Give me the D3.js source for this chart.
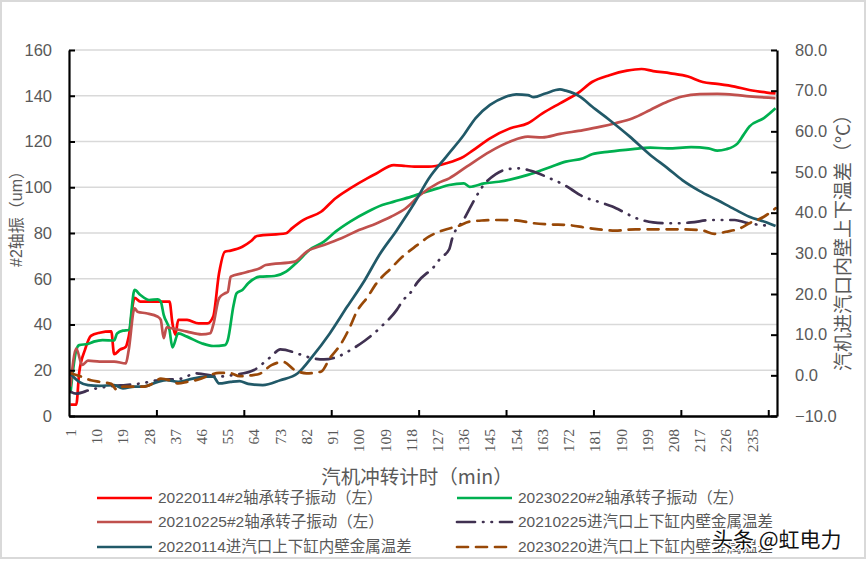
<!DOCTYPE html>
<html><head><meta charset="utf-8">
<script src="https://cdn.jsdelivr.net/npm/d3@7"></script>
<style>body{margin:0;background:#fff}svg{display:block}</style>
</head><body>
<svg id="c" width="867" height="561"></svg>
<script>
// ---------- data ----------
const leftTicks = [0,20,40,60,80,100,120,140,160];
const rightTicks = [-10,0,10,20,30,40,50,60,70,80];
const xLabels = [1,10,19,28,37,46,55,64,73,82,91,100,109,118,127,136,145,154,163,172,181,190,199,208,217,226,235];
const xTickBounds = [30,60,90,120,150,180,210,240];
const nCategories = 243;

// 20220114 #2 bearing rotor vibration (left axis)
const redMin = [1,3,4,6,8,11,15,16,18,20,21,23,25,32,35,36,37,38,41,45,48,50,52,54,56,60,63,65,75,77,81,87,92,97,103,106,112,116,119,124,130,136,139,145,152,158,163,169,175,180,186,192,197,201,207,213,218,223,229,234,240,243];
const redVal = [5,5,19,29,35,36.4,37,27,29,30.3,34.7,51.6,50,50,50,40.5,35.5,42,42,40.5,40.5,43.5,62.4,71.8,72.3,74,76.5,78.7,79.9,82,85.7,89.3,95.2,99.5,104,106,109.7,109.3,109,109,110.5,113.4,116,121.4,125.8,128,132.3,136.7,141,146,149,151,151.7,150.8,149.8,148.4,146,145.2,144,142.5,141.4,141];

// 20230220 #2 bearing rotor vibration (left axis)
const greenMin = [1,3,4,7,9,12,16,17,19,21,23,25,28,31,32,33,35,36,38,41,46,50,54,55,57,58,60,62,66,71,75,79,83,88,92,97,103,108,112,118,122,127,131,136,138,143,148,158,166,171,177,180,186,194,200,206,214,220,223,226,230,232,234,239,243];
const greenVal = [9.9,28.9,31,31.5,32.5,33.2,33,36.1,37.3,37.6,55.1,52.9,50.7,51,50,44.2,37.6,30,36.1,34.7,31.8,30.6,31,33.2,48.5,53.6,55.1,58,60.9,61.2,63.1,67.5,72.6,76.2,80.6,85,89.3,92.2,93.7,95.9,97.6,99.5,101,101.7,100.2,101.7,102.4,105.4,109,111.2,112.7,114.4,115.6,116.7,117.3,117,117.5,117,116,116.6,119.2,122.9,126.5,130.2,134.5];

// 20210225 #2 bearing rotor vibration (left axis)
const brownMin = [1,3,5,7,11,16,20,21,23,24,27,31,32,33,34,36,41,46,49,50,52,54,55,56,60,62,66,68,78,82,88,94,100,106,111,116,121,127,131,137,145,152,158,163,169,177,183,188,194,200,206,211,217,223,229,234,243];
const brownVal = [12.8,29.5,22.3,24.2,23.8,23.8,23,28.9,47.1,45.6,44.9,43.4,42,34,38.8,38.3,36.9,35.7,36.2,39.8,51.5,53.6,54.3,60.9,62.4,63.1,64.6,66,67.5,71.8,74.8,77.7,81.3,84.2,87.1,90.7,96.6,101.7,103.9,109,115.6,120,122.1,121.8,123.3,125,126.5,128,130.2,133.8,137.5,139.7,140.7,140.8,140.4,139.7,139];

// 20210225 inlet upper/lower cylinder wall temperature difference (right axis)
const purpleMin = [1,3,8,16,20,25,31,39,44,52,57,64,67,70,73,80,84,88,92,98,102,105,108,113,115,118,120,126,128,131,132,136,138,140,142,147,151,155,159,166,170,173,176,183,187,191,194,201,205,210,214,221,225,229,233,240];
const purpleVal = [-4,-4.5,-3.5,-2.6,-2.4,-2,-1.2,-0.8,0.5,-0.3,0.1,1.3,2.9,4.7,6.4,5.1,4.2,3.9,4.4,6.6,8.5,10.2,12.2,16.1,18.3,20.6,22.8,26.9,28.8,31,33.6,38.3,41,43.6,46,49.5,50.7,50.9,50.3,48.3,47,45.7,44.3,42.5,41.5,40.1,39,37.6,37.4,37.4,37.6,38.2,38.2,38.2,37.5,36.8];

// 20220114 inlet upper/lower cylinder wall temperature difference (right axis)
const tealMin = [1,4,7,11,16,19,23,26,31,34,38,43,48,50,52,56,59,62,67,73,79,84,90,96,102,107,113,119,124,130,136,140,145,150,154,158,160,164,169,171,176,180,186,193,200,206,211,217,223,229,234,240,243];
const tealVal = [0.4,-1.6,-2.4,-2.6,-2.4,-3.2,-2.8,-2.8,-1.6,-1.2,-1.6,-0.8,-0.3,-0.3,-2,-1.6,-1.4,-2.1,-2.4,-1.2,0.5,4.6,10.3,16.9,23.4,29.6,35.7,42.3,48.4,53.8,59.1,63.2,66.5,68.4,69.1,68.9,68.4,69.3,70.3,70,68.5,66.1,62.8,58.7,54.2,50.9,48,45.3,43.1,40.8,39,37.6,36.7];

// 20230220 inlet upper/lower cylinder wall temperature difference (right axis)
const orangeMin = [1,3,8,11,15,17,19,23,26,29,32,35,38,41,46,49,52,56,59,63,66,70,74,78,82,87,90,94,97,99,103,106,111,115,120,124,129,134,138,143,148,154,160,166,171,179,188,195,202,211,218,222,226,231,234,239,243];
const orangeVal = [0.5,0.1,-1.2,-1.6,-2.1,-3.6,-2.8,-2.8,-2.8,-2.1,-0.8,-1.2,-2,-1.6,-0.8,0.1,0.6,0.5,-0.2,0,0.4,2.5,3.3,1.3,0.5,0.9,4.2,7.9,12,15.3,19.3,22.6,26.3,29.2,32,34.1,35.7,36.7,37.8,38.1,38.2,38.1,37.4,37.1,37,36.2,35.6,35.9,35.9,35.9,35.6,34.8,35.3,36.2,37.4,39,41.1];

const seriesNames = [
  "20220114#2轴承转子振动（左）",
  "20230220#2轴承转子振动（左）",
  "20210225#2轴承转子振动（左）",
  "20210225进汽口上下缸内壁金属温差",
  "20220114进汽口上下缸内壁金属温差",
  "20230220进汽口上下缸内壁金属温差"
];

// ---------- chart ----------
const svg = d3.select('#c');
const P = {l:69, r:777, t:50, b:416};
const FONT = "'Liberation Sans','Noto Sans CJK SC',sans-serif";
const CJK = "'Noto Sans CJK SC','Liberation Sans',sans-serif";
const GREY = '#595959';

svg.append('rect').attr('x',1).attr('y',1).attr('width',864).attr('height',557)
  .attr('fill','#fff').attr('stroke','#D9D9D9').attr('stroke-width',2);

const x = d3.scaleLinear().domain([0.5, nCategories + 0.5]).range([P.l, P.r]);
const yL = d3.scaleLinear().domain([0,160]).range([P.b, P.t]);
const yR = d3.scaleLinear().domain([-10,80]).range([P.b, P.t]);

// gridlines
svg.append('g').selectAll('line').data(leftTicks.filter(d => d > 0)).join('line')
  .attr('x1', P.l).attr('x2', P.r).attr('y1', d => yL(d)).attr('y2', d => yL(d))
  .attr('stroke', '#D9D9D9').attr('stroke-width', 1.6);

// series
const zip = (a, b) => a.map((m, i) => [m, b[i]]);
const series = [
  {name: seriesNames[0], data: zip(redMin, redVal), y: yL, color: '#FF0000', dash: null},
  {name: seriesNames[1], data: zip(greenMin, greenVal), y: yL, color: '#00B050', dash: null},
  {name: seriesNames[2], data: zip(brownMin, brownVal), y: yL, color: '#C0504D', dash: null},
  {name: seriesNames[3], data: zip(purpleMin, purpleVal), y: yR, color: '#403151', dash: '18,8,0.5,8,0.5,8'},
  {name: seriesNames[4], data: zip(tealMin, tealVal), y: yR, color: '#215968', dash: null},
  {name: seriesNames[5], data: zip(orangeMin, orangeVal), y: yR, color: '#984807', dash: '11,8'}
];

const gLines = svg.append('g');
series.forEach(s => {
  const line = d3.line().x(d => x(d[0])).y(d => s.y(d[1])).curve(d3.curveMonotoneX);
  gLines.append('path').datum(s.data).attr('d', line)
    .attr('fill', 'none').attr('stroke', s.color).attr('stroke-width', 2.7)
    .attr('stroke-linejoin', 'round')
    .attr('stroke-linecap', s.dash ? 'round' : 'butt')
    .attr('stroke-dasharray', s.dash);
});

// left axis
const axL = svg.append('g').attr('transform', `translate(${P.l},0)`)
  .call(d3.axisLeft(yL).tickValues(leftTicks).tickSizeInner(-6).tickSizeOuter(0).tickPadding(17));
axL.select('.domain').attr('stroke', '#000').attr('stroke-width', 2.2);
axL.selectAll('.tick line').attr('stroke', '#000').attr('stroke-width', 2);
axL.selectAll('.tick text').attr('fill', GREY).style('font-family', FONT).style('font-size', '16.5px');

// right axis
const axR = svg.append('g').attr('transform', `translate(${P.r},0)`)
  .call(d3.axisRight(yR).tickValues(rightTicks).tickFormat(d3.format('.1f')).tickSizeInner(-6).tickSizeOuter(0).tickPadding(18));
axR.select('.domain').attr('stroke', '#000').attr('stroke-width', 2.2);
axR.selectAll('.tick line').attr('stroke', '#000').attr('stroke-width', 2);
axR.selectAll('.tick text').attr('fill', GREY).style('font-family', FONT).style('font-size', '16.5px');

// bottom axis (category boundaries ticks)
const axB = svg.append('g').attr('transform', `translate(0,${P.b})`)
  .call(d3.axisBottom(x).tickValues(xTickBounds.map(b => b + 0.5)).tickSizeInner(-6).tickSizeOuter(0).tickFormat(''));
axB.select('.domain').attr('stroke', '#000').attr('stroke-width', 2.6);
axB.selectAll('.tick line').attr('stroke', '#000').attr('stroke-width', 2);

svg.append('g').selectAll('text').data(xLabels).join('text')
  .attr('transform', d => `translate(${x(d)},429) rotate(-90)`)
  .attr('text-anchor', 'end').attr('dy', '0.35em')
  .attr('fill', GREY).style('font-family', "'Liberation Serif','DejaVu Serif',serif").style('font-size', '15.5px')
  .text(d => d);

// axis titles
svg.append('text').attr('transform', 'translate(16,215) rotate(-90)')
  .attr('text-anchor', 'middle').attr('dy', '0.35em')
  .attr('fill', GREY).style('font-family', FONT).style('font-size', '16px')
  .text('#2轴振（um）');
svg.append('text').attr('transform', 'translate(843,238) rotate(-90)')
  .attr('text-anchor', 'middle').attr('dy', '0.35em')
  .attr('fill', GREY).style('font-family', CJK).style('font-size', '19px')
  .text('汽机进汽口内壁上下温差（°C）');
svg.append('text').attr('x', 417).attr('y', 477)
  .attr('text-anchor', 'middle').attr('dy', '0.35em')
  .attr('fill', GREY).style('font-family', CJK).style('font-size', '19.5px')
  .text('汽机冲转计时（min）');

// legend
const legRows = [498, 522, 547];
const legCols = [97, 457];
const legend = svg.append('g');
series.forEach((s, i) => {
  const cx = legCols[i % 2], cy = legRows[Math.floor(i / 2)];
  legend.append('line').attr('x1', cx).attr('x2', cx + 55).attr('y1', cy).attr('y2', cy)
    .attr('stroke', s.color).attr('stroke-width', 2.7)
    .attr('stroke-linecap', s.dash ? 'round' : 'butt')
    .attr('stroke-dasharray', s.dash);
  legend.append('text').attr('x', cx + 61).attr('y', cy).attr('dy', '0.35em')
    .attr('fill', GREY).style('font-family', FONT).style('font-size', '15.5px')
    .text(s.name);
});

// watermark
svg.append('text').attr('x', 712).attr('y', 547)
  .attr('fill', '#111').attr('stroke', '#fff').attr('stroke-width', 3)
  .attr('paint-order', 'stroke')
  .style('font-family', CJK).style('font-size', '21px')
  .text('头条 @虹电力');
</script>
</body></html>
